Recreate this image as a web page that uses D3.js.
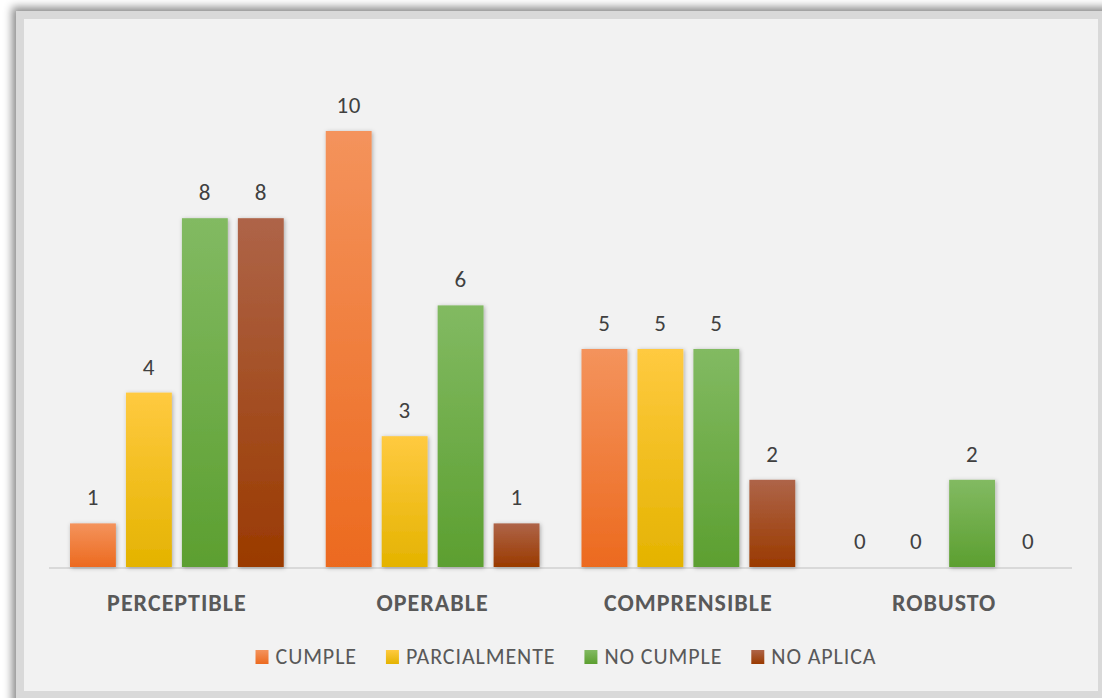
<!DOCTYPE html>
<html>
<head>
<meta charset="utf-8">
<script src="https://cdn.jsdelivr.net/npm/d3@7"></script>
<style>
  html, body { margin: 0; padding: 0; background: #ffffff; }
  svg { display: block; }
  text { font-family: Carlito, Lato, "Open Sans", sans-serif; }
</style>
</head>
<body>
<svg id="chart" width="1102" height="698"></svg>
<script>
const categories = ["PERCEPTIBLE", "OPERABLE", "COMPRENSIBLE", "ROBUSTO"];
const seriesNames = ["CUMPLE", "PARCIALMENTE", "NO CUMPLE", "NO APLICA"];
const cumple = [1, 10, 5, 0];
const parcialmente = [4, 3, 5, 0];
const noCumple = [8, 6, 5, 2];
const noAplica = [8, 1, 2, 0];
const seriesValues = [cumple, parcialmente, noCumple, noAplica];

const gradStops = [
  ["#f4935c", "#ec6a1f"],
  ["#ffca40", "#e4b300"],
  ["#82ba62", "#5c9f30"],
  ["#ae6448", "#9a3a00"]
];

const svg = d3.select("#chart");
const defs = svg.append("defs");

const frameShadow = defs.append("filter").attr("id", "frameShadow")
  .attr("x", "-5%").attr("y", "-5%").attr("width", "110%").attr("height", "110%");
frameShadow.append("feDropShadow").attr("dx", -4).attr("dy", -4)
  .attr("stdDeviation", 4).attr("flood-color", "#000").attr("flood-opacity", 0.45);

const barShadow = defs.append("filter").attr("id", "barShadow")
  .attr("x", "-30%").attr("y", "-30%").attr("width", "160%").attr("height", "160%");
barShadow.append("feDropShadow").attr("dx", 1).attr("dy", 1)
  .attr("stdDeviation", 2).attr("flood-color", "#000").attr("flood-opacity", 0.3);

gradStops.forEach((g, i) => {
  const lg = defs.append("linearGradient").attr("id", "grad" + i)
    .attr("x1", 0).attr("y1", 0).attr("x2", 0).attr("y2", 1);
  lg.append("stop").attr("offset", "0%").attr("stop-color", g[0]);
  lg.append("stop").attr("offset", "100%").attr("stop-color", g[1]);
});

// frame
svg.append("rect").attr("x", 16).attr("y", 11).attr("width", 1100).attr("height", 700)
  .attr("fill", "#d9d9d9").attr("filter", "url(#frameShadow)");
svg.append("rect").attr("x", 24).attr("y", 19).attr("width", 1074).attr("height", 672)
  .attr("fill", "#f2f2f2");

const x0 = d3.scaleBand().domain(categories).range([49, 1072]).padding(0);
const x1 = d3.scaleBand().domain(seriesNames)
  .range([21, x0.bandwidth() - 21]).paddingInner(0.18).paddingOuter(0);
const y = d3.scaleLinear().domain([0, 10]).range([567, 131]);

// baseline
svg.append("line").attr("x1", 49).attr("x2", 1072)
  .attr("y1", y(0) + 1).attr("y2", y(0) + 1)
  .attr("stroke", "#d9d9d9").attr("stroke-width", 2);

const groups = svg.selectAll("g.cat").data(categories).enter().append("g")
  .attr("class", "cat").attr("transform", d => `translate(${x0(d)},0)`);

groups.each(function(cat, ci) {
  const g = d3.select(this);
  seriesNames.forEach((s, si) => {
    const v = seriesValues[si][ci];
    if (v > 0) {
      g.append("rect").attr("x", x1(s)).attr("y", y(v))
        .attr("width", x1.bandwidth()).attr("height", y(0) - y(v))
        .attr("fill", `url(#grad${si})`).attr("filter", "url(#barShadow)");
    }
    g.append("text").attr("x", x1(s) + x1.bandwidth() / 2).attr("y", y(v) - 18)
      .attr("text-anchor", "middle").attr("fill", "#404040")
      .attr("font-size", 23).attr("letter-spacing", 0.5).text(v);
  });
});

// category labels
svg.selectAll("text.catlabel").data(categories).enter().append("text")
  .attr("class", "catlabel")
  .attr("x", d => x0(d) + x0.bandwidth() / 2).attr("y", 611)
  .attr("text-anchor", "middle").attr("fill", "#595959")
  .attr("font-size", 24).attr("letter-spacing", 1)
  .attr("font-weight", "bold").text(d => d);

// legend
const legend = svg.append("g");
const items = legend.selectAll("g").data(seriesNames).enter().append("g");
items.append("rect").attr("width", 13).attr("height", 14).attr("y", 650)
  .attr("fill", (d, i) => `url(#grad${i})`);
items.append("text").attr("x", 20).attr("y", 664).attr("fill", "#595959")
  .attr("font-size", 22).attr("letter-spacing", 0.9).text(d => d);
let xpos = 0;
const positions = [];
items.each(function() {
  const w = d3.select(this).select("text").node().getComputedTextLength();
  positions.push(xpos);
  xpos += 20 + w + 29;
});
const total = xpos - 29;
const startX = 566 - total / 2;
items.attr("transform", (d, i) => `translate(${startX + positions[i]},0)`);
</script>
</body>
</html>
